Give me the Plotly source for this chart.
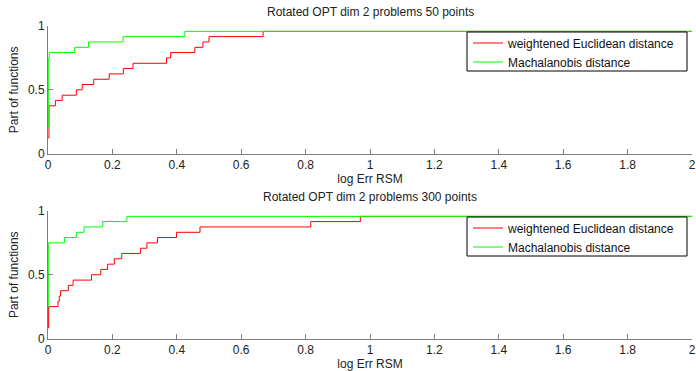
import plotly.graph_objects as go

# ---- data ----
top_title = "Rotated OPT dim 2 problems 50 points"
bot_title = "Rotated OPT dim 2 problems 300 points"
name_red = "weightened Euclidean distance"
name_green = "Machalanobis distance"
x_label = "log Err RSM"
y_label = "Part of functions"

top_red_x = [0, 0.003, 0.023, 0.044, 0.088, 0.106, 0.142, 0.19, 0.234, 0.264, 0.368, 0.381, 0.456, 0.481, 0.5, 0.668, 2]
top_red_y = [0.125, 0.375, 0.417, 0.458, 0.5, 0.542, 0.583, 0.625, 0.667, 0.708, 0.75, 0.792, 0.833, 0.875, 0.917, 0.958, 0.958]
top_green_x = [0, 0.001, 0.004, 0.083, 0.126, 0.233, 0.425, 2]
top_green_y = [0.208, 0.75, 0.792, 0.833, 0.875, 0.917, 0.958, 0.958]

bot_red_x = [0, 0.002, 0.031, 0.035, 0.039, 0.063, 0.078, 0.135, 0.164, 0.185, 0.206, 0.229, 0.287, 0.307, 0.34, 0.399, 0.472, 0.816, 0.97, 2]
bot_red_y = [0.083, 0.25, 0.292, 0.333, 0.375, 0.417, 0.458, 0.5, 0.542, 0.583, 0.625, 0.667, 0.708, 0.75, 0.792, 0.833, 0.875, 0.917, 0.958, 0.958]
bot_green_x = [0, 0.001, 0.051, 0.088, 0.112, 0.17, 0.245, 2]
bot_green_y = [0.25, 0.75, 0.792, 0.833, 0.875, 0.917, 0.958, 0.958]

x_ticks = [0, 0.2, 0.4, 0.6, 0.8, 1, 1.2, 1.4, 1.6, 1.8, 2]
y_ticks = [0, 0.5, 1]

W, H = 696, 371
L, R = 48, 4
PW = W - L - R
FONT = "Liberation Sans, Arial, sans-serif"
AX = "#7f7f7f"
RED = "#ff0000"
GREEN = "#00ff00"

fig = go.Figure()
fig.add_trace(go.Scatter(x=top_red_x, y=top_red_y, mode="lines", line=dict(color=RED, width=1, shape="hv"),
                         name=name_red, xaxis="x", yaxis="y", legend="legend"))
fig.add_trace(go.Scatter(x=top_green_x, y=top_green_y, mode="lines", line=dict(color=GREEN, width=1, shape="hv"),
                         name=name_green, xaxis="x", yaxis="y", legend="legend"))
fig.add_trace(go.Scatter(x=bot_red_x, y=bot_red_y, mode="lines", line=dict(color=RED, width=1, shape="hv"),
                         name=name_red, xaxis="x2", yaxis="y2", legend="legend2"))
fig.add_trace(go.Scatter(x=bot_green_x, y=bot_green_y, mode="lines", line=dict(color=GREEN, width=1, shape="hv"),
                         name=name_green, xaxis="x2", yaxis="y2", legend="legend2"))

def xax(anchor):
    return dict(range=[0, 2], tickvals=x_ticks, ticks="inside", ticklen=5, tickcolor=AX,
                showline=True, linecolor=AX, linewidth=1, showgrid=False, zeroline=False,
                anchor=anchor, domain=[0, 1], tickfont=dict(size=12, color="#222"),
                automargin=False,
                title=dict(text=x_label, standoff=3, font=dict(size=12, color="#222")))

def yax(anchor, dom):
    return dict(range=[0, 1], tickvals=y_ticks, ticks="inside", ticklen=5, tickcolor=AX,
                showline=True, linecolor=AX, linewidth=1, showgrid=False, zeroline=False,
                anchor=anchor, domain=dom, tickfont=dict(size=12, color="#222"),
                automargin=False,
                title=dict(text=y_label, standoff=6, font=dict(size=12, color="#222")))

top_dom = [1 - 153.7 / H, 1 - 26 / H]
bot_dom = [1 - 338.5 / H, 1 - 211 / H]

def px_x(X):
    return (X - L) / PW

def px_y(Y):
    return 1 - Y / H

legend_common = dict(bgcolor="rgba(0,0,0,0)", borderwidth=0,
                     font=dict(size=12, family=FONT, color="#111"),
                     xanchor="left", yanchor="top", tracegroupgap=0, itemwidth=30)

# legend frames (boxes) in pixel positions
boxes = [(467, 32, 687, 71), (467, 217, 687, 256)]
shapes = [dict(type="rect", xref="paper", yref="paper", x0=px_x(a), x1=px_x(c), y0=px_y(d), y1=px_y(b),
               line=dict(color="black", width=1), fillcolor="white", layer="above") for a, b, c, d in boxes]

fig.update_layout(
    width=W, height=H,
    margin=dict(l=L, r=R, t=0, b=0, autoexpand=False),
    paper_bgcolor="white", plot_bgcolor="white",
    font=dict(family=FONT, size=12, color="#222"),
    xaxis=xax("y"), yaxis=yax("x", top_dom),
    xaxis2=xax("y2"), yaxis2=yax("x2", bot_dom),
    legend=dict(x=px_x(468), y=px_y(28.5), **legend_common),
    legend2=dict(x=px_x(468), y=px_y(213.5), **legend_common),
    showlegend=True,
    shapes=shapes,
    annotations=[
        dict(text=top_title, x=0.5, y=px_y(12), xref="paper", yref="paper",
             xanchor="center", yanchor="middle", showarrow=False, font=dict(size=12, color="#222")),
        dict(text=bot_title, x=0.5, y=px_y(197), xref="paper", yref="paper",
             xanchor="center", yanchor="middle", showarrow=False, font=dict(size=12, color="#222")),
    ],
)

fig.write_html("out.html")
